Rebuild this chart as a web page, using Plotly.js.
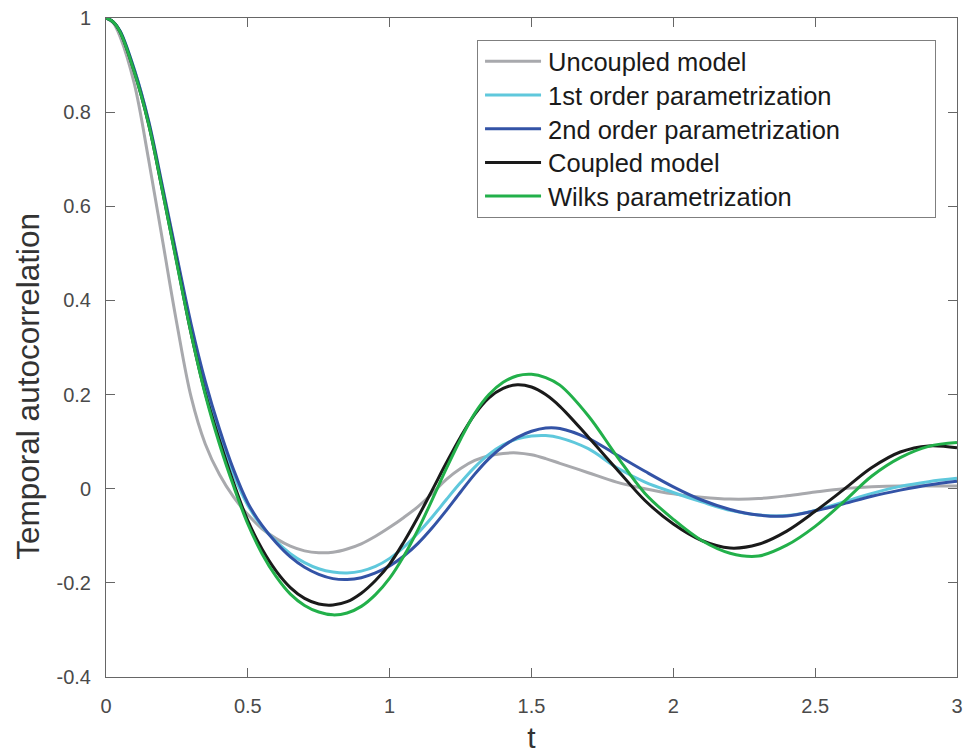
<!DOCTYPE html>
<html>
<head>
<meta charset="utf-8">
<script src="https://cdn.plot.ly/plotly-3.0.1.min.js"></script>
<style>html,body{margin:0;padding:0;background:#fff;}#chart{width:963px;height:755px;}</style>
</head>
<body>
<div id="chart"></div>
<script>
const t = [0, 0.025, 0.05, 0.1, 0.15, 0.2, 0.25, 0.3, 0.35, 0.4, 0.45, 0.5, 0.55, 0.6, 0.65, 0.7, 0.75, 0.8, 0.85, 0.9, 0.95, 1.0, 1.05, 1.1, 1.15, 1.2, 1.25, 1.3, 1.35, 1.4, 1.45, 1.5, 1.55, 1.6, 1.7, 1.8, 1.9, 2.0, 2.1, 2.2, 2.3, 2.4, 2.5, 2.6, 2.7, 2.8, 2.9, 3.0];

const uncoupled = [1, 0.99, 0.96, 0.86, 0.70, 0.525, 0.35, 0.195, 0.095, 0.03, -0.018, -0.055, -0.085, -0.106, -0.122, -0.132, -0.136, -0.135, -0.128, -0.117, -0.101, -0.082, -0.061, -0.038, -0.010, 0.020, 0.043, 0.060, 0.070, 0.075, 0.076, 0.072, 0.064, 0.054, 0.034, 0.014, 0.000, -0.011, -0.018, -0.022, -0.021, -0.015, -0.007, 0.000, 0.004, 0.006, 0.006, 0.006];

const firstOrder = [1, 0.992, 0.972, 0.89, 0.78, 0.635, 0.487, 0.34, 0.217, 0.115, 0.03, -0.035, -0.08, -0.112, -0.138, -0.157, -0.170, -0.177, -0.179, -0.175, -0.165, -0.148, -0.124, -0.094, -0.060, -0.023, 0.013, 0.046, 0.073, 0.093, 0.106, 0.112, 0.113, 0.108, 0.085, 0.045, 0.014, -0.008, -0.028, -0.046, -0.056, -0.057, -0.046, -0.028, -0.010, 0.005, 0.015, 0.022];

const secondOrder = [1, 0.992, 0.972, 0.89, 0.782, 0.64, 0.493, 0.35, 0.228, 0.127, 0.04, -0.03, -0.078, -0.115, -0.145, -0.167, -0.182, -0.191, -0.193, -0.189, -0.179, -0.164, -0.143, -0.116, -0.083, -0.046, -0.007, 0.031, 0.064, 0.090, 0.109, 0.122, 0.129, 0.128, 0.107, 0.072, 0.037, 0.004, -0.024, -0.044, -0.056, -0.058, -0.047, -0.032, -0.016, -0.003, 0.008, 0.016];

const coupled = [1, 0.992, 0.97, 0.885, 0.775, 0.63, 0.48, 0.33, 0.203, 0.103, 0.012, -0.068, -0.128, -0.175, -0.210, -0.233, -0.245, -0.247, -0.240, -0.222, -0.195, -0.160, -0.113, -0.060, -0.003, 0.055, 0.110, 0.158, 0.193, 0.213, 0.221, 0.216, 0.200, 0.175, 0.110, 0.042, -0.025, -0.075, -0.110, -0.126, -0.118, -0.090, -0.048, -0.002, 0.045, 0.078, 0.091, 0.087];

const wilks = [1, 0.992, 0.97, 0.885, 0.775, 0.63, 0.478, 0.33, 0.20, 0.095, 0.005, -0.075, -0.138, -0.187, -0.224, -0.248, -0.262, -0.268, -0.264, -0.250, -0.225, -0.190, -0.143, -0.087, -0.023, 0.043, 0.105, 0.160, 0.200, 0.226, 0.240, 0.243, 0.236, 0.220, 0.155, 0.070, -0.010, -0.065, -0.110, -0.137, -0.143, -0.120, -0.080, -0.028, 0.027, 0.066, 0.090, 0.098];

const seriesNames = ["Uncoupled model", "1st order parametrization", "2nd order parametrization", "Coupled model", "Wilks parametrization"];
const seriesColors = ["#a8a9ad", "#5fc8dc", "#3353a6", "#1a1a1a", "#22b04a"];
const seriesValues = [uncoupled, firstOrder, secondOrder, coupled, wilks];

const xTickVals = [0, 0.5, 1, 1.5, 2, 2.5, 3];
const xTickText = ["0", "0.5", "1", "1.5", "2", "2.5", "3"];
const yTickVals = [-0.4, -0.2, 0, 0.2, 0.4, 0.6, 0.8, 1];
const yTickText = ["-0.4", "-0.2", "0", "0.2", "0.4", "0.6", "0.8", "1"];
const yTitle = "Temporal autocorrelation";
const xTitle = "t";

const traces = seriesNames.map((name, i) => ({
  x: t,
  y: seriesValues[i],
  name: name,
  type: "scatter",
  mode: "lines",
  line: {color: seriesColors[i], width: 3, shape: "spline", smoothing: 1},
  hoverinfo: "skip"
}));

const FONT = "Liberation Sans, Arial, sans-serif";

const axisCommon = {
  showgrid: false,
  zeroline: false,
  showline: true,
  linecolor: "#666666",
  linewidth: 1,
  mirror: "ticks",
  ticks: "inside",
  ticklen: 9,
  tickcolor: "#666666",
  tickwidth: 1,
  tickfont: {family: FONT, size: 20, color: "#4a4a4a"}
};

const layout = {
  width: 963,
  height: 755,
  margin: {l: 106, r: 6, t: 18, b: 78},
  paper_bgcolor: "#ffffff",
  plot_bgcolor: "#ffffff",
  font: {family: FONT, color: "#333333"},
  showlegend: true,
  xaxis: Object.assign({}, axisCommon, {
    range: [0, 3],
    tickvals: xTickVals,
    ticktext: xTickText,
    ticklabelstandoff: 11,
    title: {text: xTitle, font: {family: FONT, size: 30, color: "#333333"}, standoff: 10}
  }),
  yaxis: Object.assign({}, axisCommon, {
    range: [-0.4, 1],
    tickvals: yTickVals,
    ticktext: yTickText,
    ticklabelstandoff: 10
  }),
  annotations: [{
    text: yTitle,
    xref: "paper", yref: "paper",
    x: -0.0917, y: 0.442,
    xanchor: "center", yanchor: "middle",
    textangle: -90,
    showarrow: false,
    font: {family: FONT, size: 31.5, color: "#333333"}
  }],
  legend: {
    x: 0.436, y: 0.967,
    xanchor: "left", yanchor: "top",
    bgcolor: "#ffffff",
    bordercolor: "#7f7f7f",
    borderwidth: 1,
    font: {family: FONT, size: 25.5, color: "#1a1a1a"},
    itemwidth: 60,
    traceorder: "normal"
  }
};

Plotly.newPlot("chart", traces, layout, {displayModeBar: false, staticPlot: true}).then(() => {
  const gd = document.getElementById("chart");
  gd.querySelectorAll(".legend .legendlines path").forEach(p => p.setAttribute("d", "M7,0h56"));
  const items = Array.from(gd.querySelectorAll(".legend .traces"));
  const parse = tr => {
    const m = /translate\(\s*([-\d.]+)[ ,]+([-\d.]+)\s*\)/.exec(tr || "");
    return m ? [parseFloat(m[1]), parseFloat(m[2])] : [0, 0];
  };
  if (items.length) {
    const first = parse(items[0].getAttribute("transform"));
    const rowGap = 33.7;
    const y0 = first[1] - 2.5;
    items.forEach((g, i) => {
      const p = parse(g.getAttribute("transform"));
      g.setAttribute("transform", "translate(" + p[0] + "," + (y0 + i * rowGap) + ")");
    });
  }
  const bg = gd.querySelector(".legend rect.bg");
  if (bg) {
    bg.setAttribute("width", "458");
    bg.setAttribute("height", "177");
  }
});
</script>
</body>
</html>
